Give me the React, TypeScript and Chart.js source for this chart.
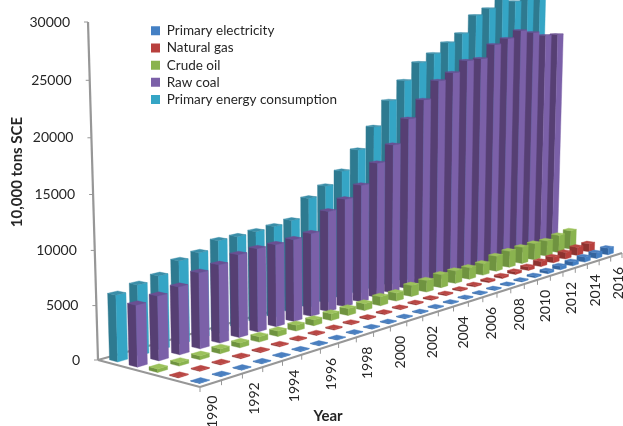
import React, { useEffect, useRef } from "react";
import { Chart, BarController, BarElement, CategoryScale, LinearScale, Legend } from "chart.js";

const years = [
  "1990", "1991", "1992", "1993", "1994", "1995", "1996", "1997", "1998",
  "1999", "2000", "2001", "2002", "2003", "2004", "2005", "2006", "2007",
  "2008", "2009", "2010", "2011", "2012", "2013", "2014", "2015", "2016",
];
const valueTicks = [0, 5000, 10000, 15000, 20000, 25000, 30000];
const electricity = [40, 40, 45, 50, 50, 55, 55, 60, 60, 65, 70, 70, 75, 80, 85, 90, 90, 95, 100, 115, 170, 280, 400, 460, 580, 645, 770];
const naturalGas = [70, 75, 80, 85, 85, 90, 90, 95, 100, 100, 105, 110, 110, 115, 120, 120, 125, 155, 195, 225, 280, 395, 575, 640, 765, 950, 960];
const crudeOil = [310, 310, 360, 455, 465, 515, 525, 580, 590, 690, 700, 715, 930, 840, 1160, 1230, 1410, 1370, 1280, 1290, 1700, 1840, 1870, 1890, 1790, 2050, 2200];
const rawCoal = [5600, 5930, 6290, 7130, 7430, 7950, 8100, 8070, 8160, 8360, 10190, 11050, 12140, 14090, 15680, 18140, 19900, 21710, 22370, 23490, 23530, 24910, 25430, 26180, 25810, 25330, 25290];
const primaryEnergy = [6100, 6550, 6920, 7880, 8210, 8950, 8930, 9020, 9130, 9340, 11210, 12100, 13310, 15210, 17330, 19840, 21750, 23490, 24280, 25310, 26160, 28030, 28680, 29830, 29260, 29860, 29760];

const FONT = "Lato";
const AXIS_COLOR = "#979797";
const TEXT_COLOR = "#262626";

// Face shades of each cuboid: main (right face), side (left face), cap (top face).
const shades = [
  { main: "#4480c4", side: "#33649f", cap: "#4a7fc0" },
  { main: "#b8403d", side: "#8e3330", cap: "#b94744" },
  { main: "#8ab34f", side: "#6f9340", cap: "#9cc25c" },
  { main: "#7b60a8", side: "#563f73", cap: "#6a4f92" },
  { main: "#35a5c5", side: "#2e7a90", cap: "#3a8ea8" },
];

// Floor corners and the top of the value axis define the perspective camera.
const floorNearLeft = [200, 387];
const floorNearRight = [622, 253];
const floorFarLeft = [98, 360];
const floorFarRight = [530, 239];
const axisTop = [88, 22];
const heightPerspective = -0.043;

const solveCamera = () => {
  const [x0, y0] = floorNearLeft;
  const [x1, y1] = floorNearRight;
  const [x2, y2] = floorFarLeft;
  const [x3, y3] = floorFarRight;
  const dx1 = x1 - x3, dy1 = y1 - y3, dx2 = x2 - x3, dy2 = y2 - y3;
  const sx = x0 - x1 + x3 - x2, sy = y0 - y1 + y3 - y2;
  const det = dx1 * dy2 - dx2 * dy1;
  const c1 = (sx * dy2 - sy * dx2) / det;
  const c2 = (dx1 * sy - dy1 * sx) / det;
  const c3 = heightPerspective;
  const wTop = 1 + c2 + c3;
  return {
    c1, c2, c3,
    a1: x1 * (1 + c1) - x0, a2: x2 * (1 + c2) - x0, a3: axisTop[0] * wTop - x2 * (1 + c2), a4: x0,
    b1: y1 * (1 + c1) - y0, b2: y2 * (1 + c2) - y0, b3: axisTop[1] * wTop - y2 * (1 + c2), b4: y0,
  };
};
const camera = solveCamera();

// u runs along the years, v runs back through the series, h runs up the values (all 0..1).
const project = (u: number, v: number, h: number) => {
  const { c1, c2, c3, a1, a2, a3, a4, b1, b2, b3, b4 } = camera;
  const w = 1 + c1 * u + c2 * v + c3 * h;
  return { x: (a1 * u + a2 * v + a3 * h + a4) / w, y: (b1 * u + b2 * v + b3 * h + b4) / w };
};

const fillFace = (ctx: CanvasRenderingContext2D, pts: { x: number; y: number }[], color: string) => {
  ctx.fillStyle = color;
  ctx.strokeStyle = color;
  ctx.lineWidth = 0.4;
  ctx.beginPath();
  pts.forEach((p, i) => (i ? ctx.lineTo(p.x, p.y) : ctx.moveTo(p.x, p.y)));
  ctx.closePath();
  ctx.fill();
  ctx.stroke();
};

// Bar controller that paints each value as a cuboid in the projected space.
class Bar3DController extends BarController {
  static id = "bar3d";
  static defaults = BarController.defaults;
  static overrides = BarController.overrides;

  draw() {
    const chart = this.chart;
    const ctx = chart.ctx;
    const meta = this.getMeta();
    const xScale = meta.xScale as any;
    const yScale = meta.yScale as any;
    const rows = chart.data.datasets.length;
    const count = chart.data.labels!.length;
    const values = this.getDataset().data as number[];
    const shade = shades[this.index];
    const halfU = (0.46 / count) / 2;
    const halfV = (0.42 / rows) / 2;
    const v = (this.index + 0.5) / rows;
    for (let i = values.length - 1; i >= 0; i--) {
      const u = (xScale.getPixelForValue(i) - xScale.left) / xScale.width;
      const h = (yScale.bottom - yScale.getPixelForValue(values[i])) / yScale.height;
      const u0 = u - halfU, u1 = u + halfU, v0 = v - halfV, v1 = v + halfV;
      fillFace(ctx, [project(u0, v0, 0), project(u0, v1, 0), project(u0, v1, h), project(u0, v0, h)], shade.side);
      fillFace(ctx, [project(u0, v0, 0), project(u1, v0, 0), project(u1, v0, h), project(u0, v0, h)], shade.main);
      fillFace(ctx, [project(u0, v0, h), project(u1, v0, h), project(u1, v1, h), project(u0, v1, h)], shade.cap);
    }
  }
}

// Draws the floor edges, the tick marks and all axis text.
const axesPlugin = {
  id: "projectedAxes",
  afterLayout(chart: any) {
    const padding = chart.options.plugins.legend.labels.padding;
    chart.legend.left = 151 - padding;
    chart.legend.top = 24 - padding;
  },
  beforeDatasetsDraw(chart: any) {
    const { ctx, scales } = chart;
    const yScale = scales.y;
    const count = years.length;
    const segment = (a: any, b: any, width = 2.2) => {
      ctx.strokeStyle = AXIS_COLOR;
      ctx.lineWidth = width;
      ctx.beginPath();
      ctx.moveTo(a.x, a.y);
      ctx.lineTo(b.x, b.y);
      ctx.stroke();
    };
    ctx.save();
    segment(project(0, 1, 0), project(0, 1, 1));
    segment(project(0, 1, 0), project(1, 1, 0));
    segment(project(0, 1, 0), project(0, 0, 0));
    segment(project(0, 0, 0), project(1, 0, 0));

    ctx.fillStyle = TEXT_COLOR;
    ctx.font = `14px ${FONT}`;
    ctx.textAlign = "right";
    ctx.textBaseline = "middle";
    valueTicks.forEach((tick) => {
      const h = (yScale.bottom - yScale.getPixelForValue(tick)) / yScale.height;
      const p = project(0, 1, h);
      segment({ x: p.x - 4, y: p.y }, p, 1);
      ctx.fillText(String(tick), p.x - 18, p.y);
    });

    for (let i = 0; i <= count; i++) {
      const p = project(i / count, 0, 0);
      segment(p, { x: p.x, y: p.y + 5 }, 1);
    }
    years.forEach((year, i) => {
      if (i % 2) return;
      const p = project((i + 0.5) / count, 0, 0);
      ctx.save();
      ctx.translate(p.x + 2, p.y + 12);
      ctx.rotate(-Math.PI / 2);
      ctx.fillText(year, 0, 0);
      ctx.restore();
    });

    ctx.font = `bold 15px ${FONT}`;
    ctx.textAlign = "center";
    ctx.fillText("Year", 328, 416);
    ctx.save();
    ctx.translate(17, 172);
    ctx.rotate(-Math.PI / 2);
    ctx.fillText("10,000 tons SCE", 0, 0);
    ctx.restore();
    ctx.restore();
  },
};

Chart.register(Bar3DController, BarElement, CategoryScale, LinearScale, Legend);

export default function App() {
  const canvasRef = useRef<HTMLCanvasElement>(null);

  useEffect(() => {
    const series = [
      { label: "Primary electricity", data: electricity },
      { label: "Natural gas", data: naturalGas },
      { label: "Crude oil", data: crudeOil },
      { label: "Raw coal", data: rawCoal },
      { label: "Primary energy consumption", data: primaryEnergy },
    ];
    const chart = new Chart(canvasRef.current!, {
      type: "bar3d" as any,
      data: {
        labels: years,
        datasets: series.map((s, i) => ({
          ...s,
          backgroundColor: shades[i].main,
          clip: false as any,
        })),
      },
      options: {
        responsive: false,
        animation: false,
        events: [],
        layout: { padding: 0 },
        scales: {
          x: { type: "category", display: false, offset: true },
          y: { type: "linear", display: false, min: 0, max: 30000 },
        },
        plugins: {
          legend: {
            position: "chartArea" as any,
            align: "start",
            labels: {
              boxWidth: 9,
              boxHeight: 9,
              padding: 3.7,
              color: TEXT_COLOR,
              font: { family: FONT, size: 13.5 },
            },
          },
          tooltip: { enabled: false },
        },
      },
      plugins: [axesPlugin],
    } as any);
    return () => chart.destroy();
  }, []);

  return (
    <div style={{ position: "fixed", left: 0, top: 0, width: 623, height: 426, background: "#fff" }}>
      <canvas ref={canvasRef} width={623} height={426} style={{ display: "block" }} />
    </div>
  );
}
